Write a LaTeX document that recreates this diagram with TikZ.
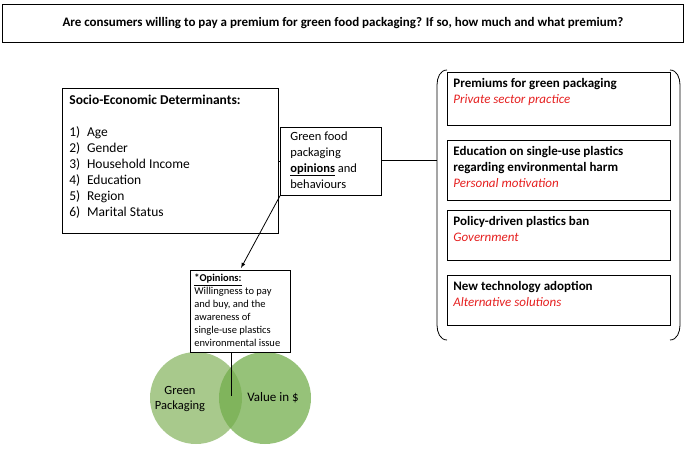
\documentclass[tikz,border=0pt]{standalone}
\usepackage{fontspec}
\setmainfont{Carlito}
\usetikzlibrary{positioning}
\definecolor{redtext}{rgb}{0.9,0.12,0.12}
\definecolor{lightgreen}{rgb}{0.66,0.79,0.55}
\definecolor{darkgreen}{rgb}{0.45,0.68,0.30}
\newcommand{\topfill}[3]{\parbox[c][#2][t]{#1}{#3}}
\tikzset{
	box/.style={draw,line width=0.8pt,align=left,anchor=north west,inner sep=6pt},
	premium/.style={draw,line width=0.8pt,align=left,anchor=north west,inner sep=6pt,font=\fontsize{13}{16}\selectfont},
}
\begin{document}
\begin{tikzpicture}[x=1pt,y=-1pt]
	\useasboundingbox (0,0) rectangle (685,448);

	\node[draw,line width=0.8pt,minimum width=681pt,minimum height=38pt,anchor=north west,font=\fontsize{13}{15}\selectfont\bfseries] (title) at (2,4) {Are consumers willing to pay a premium for green food packaging? If so, how much and what premium?};

	\node[box,inner sep=7pt,font=\fontsize{13.5}{16}\selectfont] (socio) at (62,88) {\topfill{202pt}{131pt}{\textbf{Socio-Economic Determinants:}\\[16pt]
		1)\enspace Age\\2)\enspace Gender\\3)\enspace Household Income\\4)\enspace Education\\5)\enspace Region\\6)\enspace Marital Status}};

	\node[box,font=\fontsize{12.5}{16}\selectfont,inner sep=4pt] (green) at (280,127) {\topfill{93pt}{60pt}{\raggedright\hspace*{6pt}Green food\\\hspace*{6pt}packaging\\\hspace*{6pt}\textbf{\underline{opinions}} and\\\hspace*{6pt}behaviours}};

	\node[premium] (p1) at (447,72) {\topfill{211pt}{41pt}{\textbf{Premiums for green packaging}\\\textcolor{redtext}{\itshape Private sector practice}}};
	\node[premium] (p2) at (447,140) {\topfill{211pt}{48pt}{\raggedright\textbf{Education on single-use plastics regarding environmental harm}\\\textcolor{redtext}{\itshape Personal motivation}}};
	\node[premium] (p3) at (447,210) {\topfill{211pt}{38pt}{\textbf{Policy-driven plastics ban}\\\textcolor{redtext}{\itshape Government}}};
	\node[premium] (p4) at (447,275) {\topfill{211pt}{38pt}{\textbf{New technology adoption}\\\textcolor{redtext}{\itshape Alternative solutions}}};

	% bracket round the premiums
	\coordinate (bl) at (437,160);
	\draw[line width=0.8pt] (447,70) to[out=180,in=90] (437,85) -- (437,325) to[out=-90,in=180] (447,340);
	\draw[line width=0.8pt] (670,70) to[out=0,in=90] (680,85) -- (680,325) to[out=-90,in=0] (670,340);

	\node[circle,fill=lightgreen,minimum size=92pt,inner sep=0pt] (gp) at (196,398) {};
	\node[circle,fill=darkgreen,fill opacity=0.75,minimum size=92pt,inner sep=0pt] (val) at (265,398) {};
	\node[font=\fontsize{12.5}{15}\selectfont,align=center] at (180,399) {Green\\Packaging};
	\node[font=\fontsize{13}{15}\selectfont] at (273,398) {Value in \$};

	\node[box,font=\fontsize{10.5}{13}\selectfont,inner sep=4pt] (op) at (190,270) {\topfill{92pt}{74pt}{\textbf{\underline{*Opinions:}}\\Willingness to pay\\and buy, and the\\awareness of\\single-use plastics\\environmental issue}};
	\coordinate (ov) at (231,396);

	\draw[line width=0.8pt] (socio.east) -- (green.west |- socio.east);
	\draw[line width=0.8pt] (green.east |- bl) -- (bl);
	\draw[line width=0.8pt,-latex] (green.south west) -- (241,268);
	\draw[line width=0.8pt] (op.south -| ov) -- (ov);
\end{tikzpicture}
\end{document}
